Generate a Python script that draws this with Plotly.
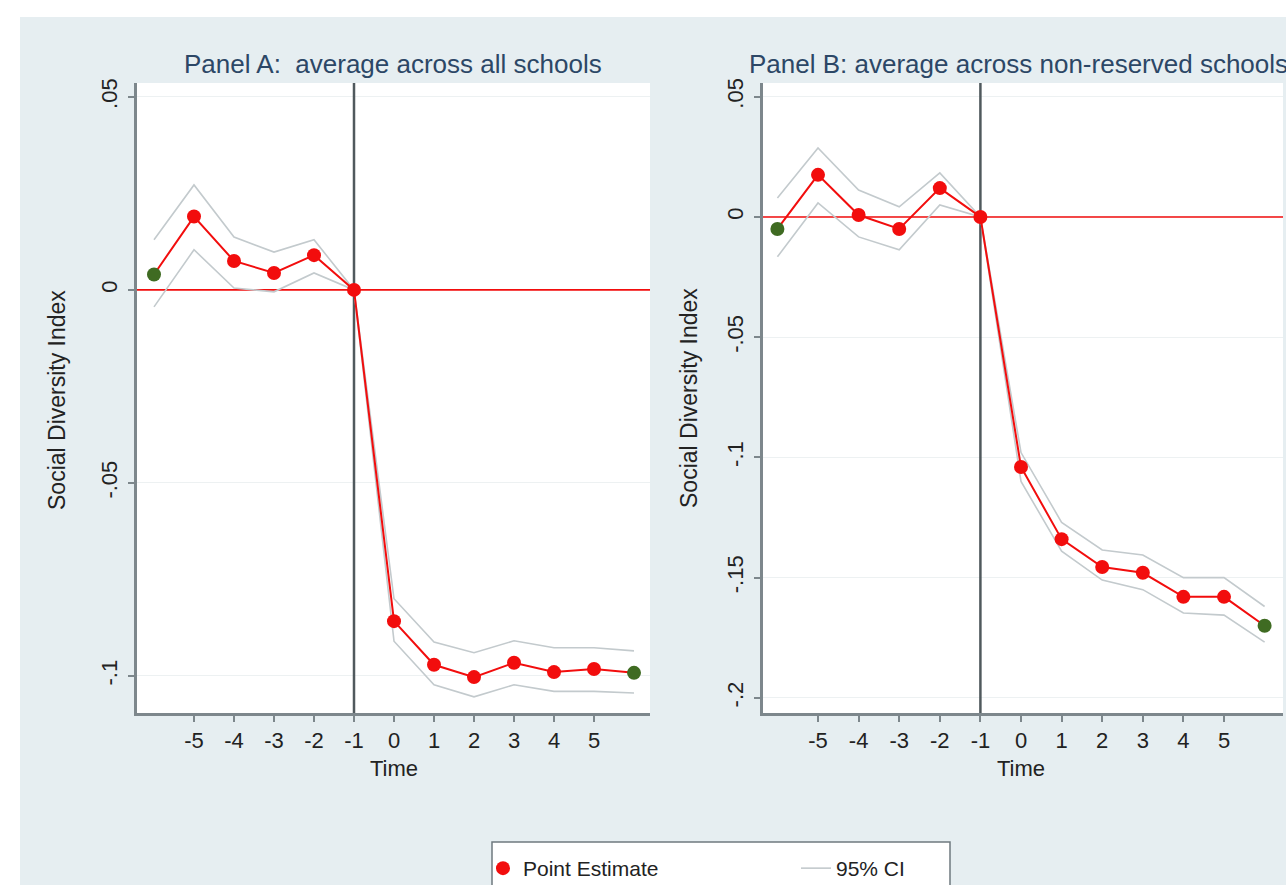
import plotly.graph_objects as go

W, H = 1286, 885

# ---------------- data ----------------
time = [-6, -5, -4, -3, -2, -1, 0, 1, 2, 3, 4, 5, 6]
x_tick_vals = [-5, -4, -3, -2, -1, 0, 1, 2, 3, 4, 5]
x_tick_text = ["-5", "-4", "-3", "-2", "-1", "0", "1", "2", "3", "4", "5"]

a_est = [0.004, 0.019, 0.0075, 0.0044, 0.009, 0.0, -0.0858, -0.0971, -0.1003, -0.0966, -0.0990, -0.0982, -0.0992]
a_upper = [0.013, 0.0272, 0.0137, 0.0098, 0.013, 0.0, -0.0800, -0.0912, -0.0940, -0.0909, -0.0927, -0.0927, -0.0935]
a_lower = [-0.0044, 0.0104, 0.0005, -0.0005, 0.0044, 0.0, -0.0910, -0.1023, -0.1054, -0.1023, -0.1040, -0.1040, -0.1044]

b_est = [-0.005, 0.0175, 0.0008, -0.005, 0.012, 0.0, -0.104, -0.134, -0.1456, -0.148, -0.158, -0.158, -0.170]
b_upper = [0.0079, 0.0287, 0.0112, 0.0042, 0.0183, 0.0, -0.098, -0.127, -0.1385, -0.1406, -0.150, -0.150, -0.162]
b_lower = [-0.0166, 0.0058, -0.0083, -0.0137, 0.005, 0.0, -0.110, -0.139, -0.151, -0.155, -0.1647, -0.1656, -0.1768]

a_y_ticks = [0.05, 0.0, -0.05, -0.1]
a_y_text = [".05", "0", "-.05", "-.1"]
b_y_ticks = [0.05, 0.0, -0.05, -0.1, -0.15, -0.2]
b_y_text = [".05", "0", "-.05", "-.1", "-.15", "-.2"]

ref_time = -1
ref_value = 0.0

title_a = "Panel A:  average across all schools"
title_b = "Panel B: average across non-reserved schools"
y_title = "Social Diversity Index"
x_title = "Time"
legend_point = "Point Estimate"
legend_ci = "95% CI"

# axis ranges (layout)
a_xrange = [-6.425, 6.4]
a_yrange = [-0.1096, 0.0536]
b_xrange = [-6.355, 6.453]
b_yrange = [-0.2063, 0.0557]

# ---------------- styles ----------------
BG = "#e6eef1"
RED = "#f20d0d"
GREEN = "#3f6b22"
CI_COL = "#c3cacd"
AXIS_COL = "#7d878c"
VLINE_COL = "#50595d"
TITLE_COL = "#2c4766"
FONT = "Liberation Sans, Arial, sans-serif"


def px_x(p):
    return p / W


def px_y(p):
    return 1 - p / H


fig = go.Figure()

endpoints = (min(time), max(time))
marker_colors = [GREEN if t in endpoints else RED for t in time]

panels = [
    (a_est, a_upper, a_lower, "x", "y", a_xrange, a_yrange),
    (b_est, b_upper, b_lower, "x2", "y2", b_xrange, b_yrange),
]

for est, up, lo, xa, ya, xr, yr in panels:
    # reference lines (event time and zero effect)
    fig.add_trace(go.Scatter(x=[ref_time, ref_time], y=yr, mode="lines",
                             line=dict(color=VLINE_COL, width=2.5), xaxis=xa, yaxis=ya,
                             showlegend=False, hoverinfo="skip", cliponaxis=True))
    fig.add_trace(go.Scatter(x=xr, y=[ref_value, ref_value], mode="lines",
                             line=dict(color=RED, width=1.6), xaxis=xa, yaxis=ya,
                             showlegend=False, hoverinfo="skip", cliponaxis=True))
    fig.add_trace(go.Scatter(x=time, y=up, mode="lines", line=dict(color=CI_COL, width=1.6),
                             xaxis=xa, yaxis=ya, showlegend=False, hoverinfo="skip"))
    fig.add_trace(go.Scatter(x=time, y=lo, mode="lines", line=dict(color=CI_COL, width=1.6),
                             xaxis=xa, yaxis=ya, showlegend=False, hoverinfo="skip"))
    fig.add_trace(go.Scatter(x=time, y=est, mode="lines+markers",
                             line=dict(color=RED, width=2),
                             marker=dict(color=marker_colors, size=14, line=dict(width=0)),
                             xaxis=xa, yaxis=ya, showlegend=False))

# legend entries
fig.add_trace(go.Scatter(x=[None], y=[None], mode="markers", name=legend_point,
                         marker=dict(color=RED, size=14), xaxis="x", yaxis="y"))
fig.add_trace(go.Scatter(x=[None], y=[None], mode="lines", name=legend_ci,
                         line=dict(color=CI_COL, width=1.6), xaxis="x", yaxis="y"))

ydom = [px_y(713), px_y(83)]

common_x = dict(
    tickvals=x_tick_vals, ticktext=x_tick_text, ticks="outside", ticklen=6, tickwidth=1.5,
    tickcolor=AXIS_COL, showline=True, linecolor=AXIS_COL, linewidth=2.5, showgrid=False,
    zeroline=False, tickfont=dict(size=22, color="#222", family=FONT), ticklabelstandoff=0,
)
common_y = dict(
    ticks="outside", ticklen=6, tickwidth=1.5, tickcolor=AXIS_COL, showline=True,
    linecolor=AXIS_COL, linewidth=2.5, showgrid=True, gridcolor="#edf1f2", gridwidth=1,
    zeroline=False, tickangle=-90, tickfont=dict(size=22, color="#222", family=FONT),
    ticklabelstandoff=2,
)

fig.update_layout(
    xaxis=dict(domain=[px_x(137), px_x(650)], range=a_xrange, anchor="y", **common_x),
    yaxis=dict(domain=ydom, range=a_yrange, anchor="x", tickvals=a_y_ticks,
               ticktext=a_y_text, **common_y),
    xaxis2=dict(domain=[px_x(763), px_x(1283)], range=b_xrange, anchor="y2", **common_x),
    yaxis2=dict(domain=ydom, range=b_yrange, anchor="x2", tickvals=b_y_ticks,
                ticktext=b_y_text, **common_y),
)

shapes = [
    # white outer strips (top and left)
    dict(type="rect", xref="paper", yref="paper", x0=0, x1=1, y0=px_y(17), y1=1,
         fillcolor="white", line=dict(width=0), layer="above"),
    dict(type="rect", xref="paper", yref="paper", x0=0, x1=px_x(20), y0=0, y1=1,
         fillcolor="white", line=dict(width=0), layer="above"),
    # legend frame
    dict(type="rect", xref="paper", yref="paper", x0=px_x(492), x1=px_x(950),
         y0=px_y(895), y1=px_y(842), fillcolor="white",
         line=dict(color="#6f7a7f", width=1.5), layer="above"),
]

annotations = [
    dict(text=title_a, x=px_x(393), y=px_y(64), xref="paper", yref="paper", showarrow=False,
         xanchor="center", yanchor="middle", font=dict(size=26, color=TITLE_COL, family=FONT)),
    dict(text=title_b, x=px_x(747), y=px_y(64), xref="paper", yref="paper", showarrow=False,
         xanchor="left", yanchor="middle", font=dict(size=26, color=TITLE_COL, family=FONT)),
    dict(text=y_title, x=px_x(57), y=px_y(400), xref="paper", yref="paper", showarrow=False,
         textangle=-90, xanchor="center", yanchor="middle", font=dict(size=23, color="#222", family=FONT)),
    dict(text=y_title, x=px_x(689), y=px_y(398), xref="paper", yref="paper", showarrow=False,
         textangle=-90, xanchor="center", yanchor="middle", font=dict(size=23, color="#222", family=FONT)),
    dict(text=x_title, x=px_x(394), y=px_y(768), xref="paper", yref="paper", showarrow=False,
         xanchor="center", yanchor="middle", font=dict(size=22, color="#222", family=FONT)),
    dict(text=x_title, x=px_x(1021), y=px_y(768), xref="paper", yref="paper", showarrow=False,
         xanchor="center", yanchor="middle", font=dict(size=22, color="#222", family=FONT)),
]

fig.update_layout(
    width=W, height=H,
    margin=dict(l=0, r=0, t=0, b=0, autoexpand=False),
    paper_bgcolor=BG, plot_bgcolor="white",
    font=dict(family=FONT, color="#222"),
    shapes=shapes, annotations=annotations,
    showlegend=True,
    legend=dict(orientation="h", x=px_x(483), y=px_y(848), xanchor="left", yanchor="top",
                bgcolor="rgba(0,0,0,0)", borderwidth=0,
                font=dict(size=21, color="#222", family=FONT), entrywidth=268, entrywidthmode="pixels",
                tracegroupgap=0),
)

fig.write_html("out.html", config={"displayModeBar": False},
               post_script="document.body.style.margin='0';document.body.style.overflow='hidden';")
